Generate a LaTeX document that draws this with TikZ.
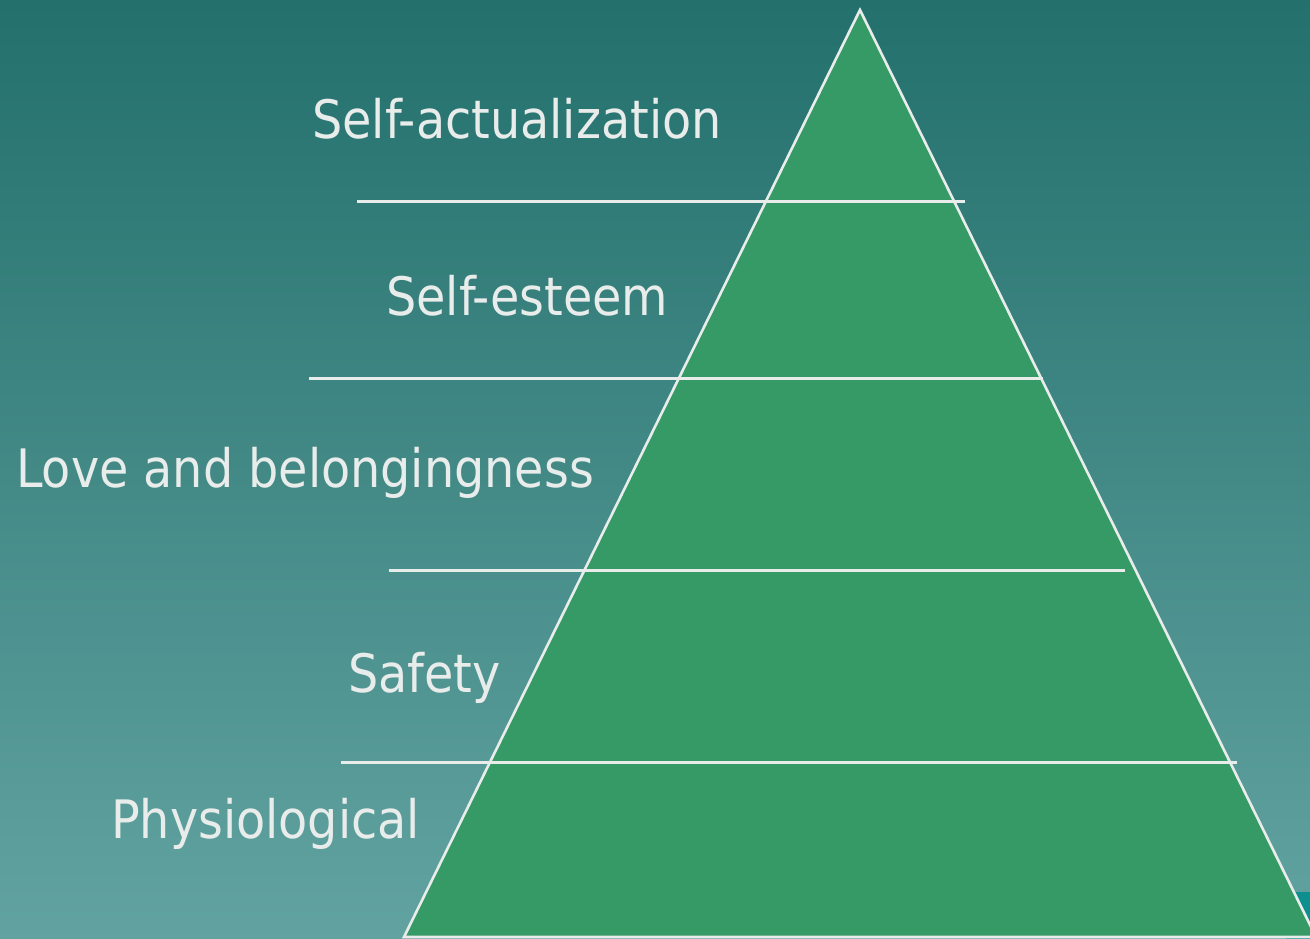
\documentclass[tikz,border=0pt]{standalone}
\usepackage{fontspec}
\setmainfont{DejaVu Sans Condensed}
\definecolor{bgtop}{HTML}{23706C}
\definecolor{bgbot}{HTML}{62A3A1}
\definecolor{tier}{HTML}{359A66}
\definecolor{corner}{HTML}{0E8F8F}
\definecolor{ink}{HTML}{E8ECEA}
\tikzset{
  level/.style={anchor=base west, inner sep=0pt, text=ink, font=\fontsize{53}{60}\selectfont},
  divider/.style={draw=ink, line width=3pt},
}
\begin{document}
\begin{tikzpicture}[x=1pt, y=-1pt]
  \useasboundingbox (0,0) rectangle (1310,939);
  \begin{scope}
    \clip (0,0) rectangle (1310,939);
    % background
    \shade[top color=bgtop, bottom color=bgbot] (0,0) rectangle (1310,939);
    \fill[corner] (1286,892) rectangle (1310,939);
    % pyramid
    \coordinate (apex) at (860,10);
    \coordinate (bl) at (404,937);
    \coordinate (br) at (1316,937);
    \filldraw[fill=tier, draw=ink, line width=2.6pt, line join=miter] (apex) -- (bl) -- (br) -- cycle;
    % tier dividers
    \coordinate (d1a) at (357,202); \coordinate (d1b) at (965,202);
    \coordinate (d2a) at (309,378); \coordinate (d2b) at (1043,378);
    \coordinate (d3a) at (389,570); \coordinate (d3b) at (1125,570);
    \coordinate (d4a) at (341,762); \coordinate (d4b) at (1237,762);
    \draw[divider] (d1a) -- (d1b);
    \draw[divider] (d2a) -- (d2b);
    \draw[divider] (d3a) -- (d3b);
    \draw[divider] (d4a) -- (d4b);
  \end{scope}
  % level labels
  \node[level] (l5) at (312,139) {Self-actualization};
  \node[level] (l4) at (386,315) {Self-esteem};
  \node[level] (l3) at (16,487) {Love and belongingness};
  \node[level] (l2) at (348,692) {Safety};
  \node[level] (l1) at (111,838) {Physiological};
\end{tikzpicture}
\end{document}
